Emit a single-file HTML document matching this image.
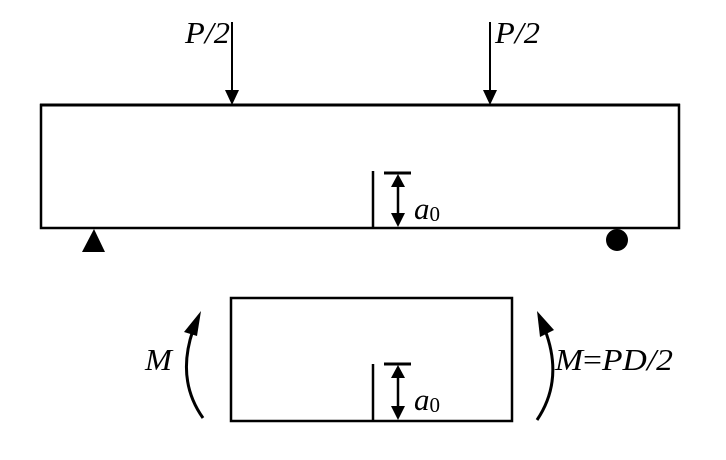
<!DOCTYPE html>
<html><head><style>html,body{margin:0;padding:0;background:#fff;}svg{display:block}</style></head>
<body>
<svg width="726" height="460" viewBox="0 0 726 460" xmlns="http://www.w3.org/2000/svg">
<g stroke="#000" fill="none">
<rect x="41" y="105" width="638" height="123" stroke-width="2.5"/>
<line x1="40" y1="105" x2="680" y2="105" stroke-width="3"/>
<line x1="232" y1="22" x2="232" y2="90" stroke-width="2"/>
<line x1="490" y1="22" x2="490" y2="90" stroke-width="2"/>
<line x1="373" y1="171" x2="373" y2="228" stroke-width="2.5"/>
<line x1="384" y1="173" x2="411" y2="173" stroke-width="3"/>
<line x1="398" y1="185" x2="398" y2="215" stroke-width="2.5"/>
<rect x="231" y="298" width="281" height="123" stroke-width="2.5"/>
<line x1="373" y1="364" x2="373" y2="421" stroke-width="2.5"/>
<line x1="384" y1="364" x2="411" y2="364" stroke-width="3"/>
<line x1="398" y1="376" x2="398" y2="408" stroke-width="2.5"/>
<path d="M203,418 Q176,380 193,330" stroke-width="3"/>
<path d="M537,420 Q564,380 545,330" stroke-width="3"/>
</g>
<g fill="#000">
<polygon points="225,90 239,90 232,105"/>
<polygon points="483,90 497,90 490,105"/>
<polygon points="391,187 405,187 398,174"/>
<polygon points="391,213 405,213 398,227"/>
<polygon points="391,378 405,378 398,365"/>
<polygon points="391,406 405,406 398,420"/>
<polygon points="82,252 105,252 94,229"/>
<ellipse cx="617" cy="240" rx="11" ry="11"/>
<polygon points="201,311 184,332 197,336"/>
<polygon points="537,311 540,337 554,330"/>
</g>
<g font-family="Liberation Serif, serif" font-size="31" font-style="italic" fill="#000">
<text x="185" y="43" textLength="45" lengthAdjust="spacingAndGlyphs">P/2</text>
<text x="495" y="43" textLength="45" lengthAdjust="spacingAndGlyphs">P/2</text>
<text x="414" y="219">a<tspan font-style="normal" font-size="21" dy="2">0</tspan></text>
<text x="414" y="410">a<tspan font-style="normal" font-size="21" dy="2">0</tspan></text>
<text x="145" y="370" textLength="27" lengthAdjust="spacingAndGlyphs">M</text>
<text x="555" y="370" textLength="118" lengthAdjust="spacingAndGlyphs">M<tspan font-style="normal">=</tspan>PD/2</text>
</g>
</svg>
</body></html>
